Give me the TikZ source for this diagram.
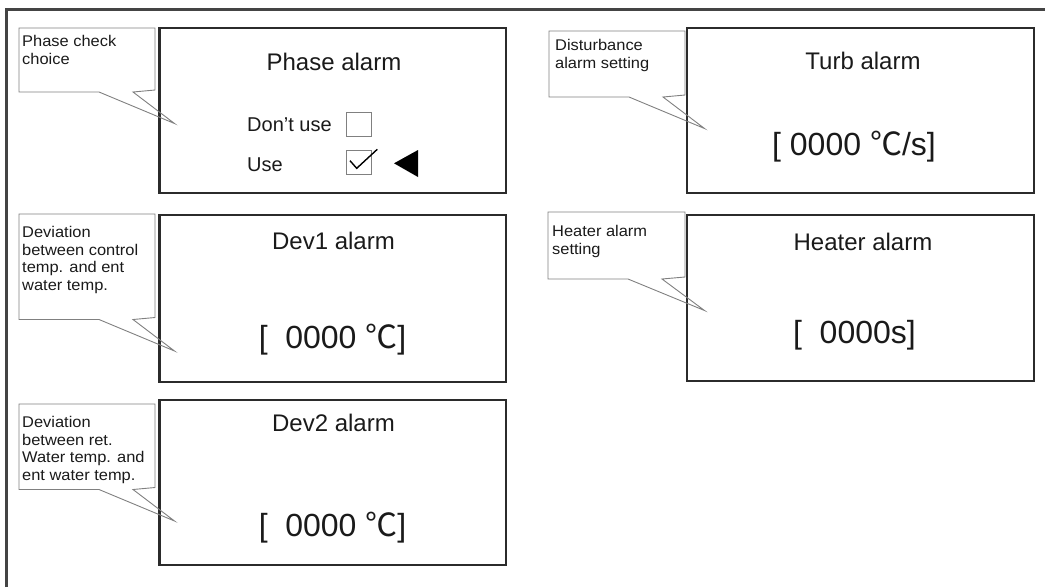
\documentclass[tikz,border=0pt]{standalone}
\usepackage{fontspec}
\setmainfont{Liberation Sans}
\newfontfamily\cjk{Noto Sans CJK SC}
\newfontfamily\callfont[FakeStretch=1.06]{Liberation Sans}
\newcommand{\degc}{{\cjk ℃}}
\definecolor{framecol}{HTML}{444444}
\definecolor{boxcol}{HTML}{2B2B2B}
\definecolor{callcol}{HTML}{808080}
\definecolor{txtcol}{HTML}{1A1A1A}
\begin{document}
\begin{tikzpicture}[x=1pt,y=-1pt,
  screen/.style={draw=boxcol,line width=2.5pt,inner sep=0pt},
  calloutline/.style={draw=callcol,line width=0.9pt,line join=miter},
  calltext/.style={anchor=north west,inner sep=0pt,align=left,text=txtcol,
    font=\callfont\fontsize{15.5}{17.6}\selectfont},
  titletext/.style={anchor=base,inner sep=0pt,text=txtcol,font=\fontsize{24}{28}\selectfont},
  valuetext/.style={anchor=base,inner sep=0pt,text=txtcol,font=\fontsize{32}{38}\selectfont},
  opttext/.style={anchor=base west,inner sep=0pt,text=txtcol,font=\fontsize{20}{24}\selectfont},
  chkbox/.style={draw=callcol,line width=1pt,inner sep=0pt,minimum width=25pt,minimum height=24pt}
]
\useasboundingbox (0,0) rectangle (1045,587);
% outer frame (top and left only)
\coordinate (fbl) at (6.5,587);
\coordinate (ftl) at (6.5,9.5);
\coordinate (ftr) at (1045,9.5);
\draw[framecol,line width=2.5pt] (fbl) -- (ftl) -- (ftr);

% screens
\node[screen,minimum width=346.5pt,minimum height=165pt] (phase) at (332.75,110.5) {};
\node[screen,minimum width=346.5pt,minimum height=167pt] (dev1) at (332.75,298.5) {};
\node[screen,minimum width=346.5pt,minimum height=165pt] (dev2) at (332.75,482.5) {};
\node[screen,minimum width=347pt,minimum height=165pt] (turb) at (860.5,110.5) {};
\node[screen,minimum width=347pt,minimum height=166pt] (heater) at (860.5,298) {};

% titles
\node[titletext] (phaset) at (334,70) {Phase alarm};
\node[titletext] (dev1t) at (333.5,249.3) {Dev1 alarm};
\node[titletext] (dev2t) at (333.5,431) {Dev2 alarm};
\node[titletext] (turbt) at (863,69.5) {Turb alarm};
\node[titletext] (heatert) at (863,250.7) {Heater alarm};

% values
\node[valuetext] (turbv) at (854,155) {[ 0000 \degc/s]};
\node[valuetext] (heaterv) at (854.5,343) {[\hspace{0.55em}0000s]};
\node[valuetext] (dev1v) at (332.5,348) {[\hspace{0.55em}0000 \degc]};
\node[valuetext] (dev2v) at (332.5,536.7) {[\hspace{0.55em}0000 \degc]};

% phase options
\node[opttext] (dontuse) at (247,131) {Don't use};
\node[opttext] (use) at (247,171) {Use};
\node[chkbox] (box1) at (358.8,124) {};
\node[chkbox] (box2) at (358.8,162.5) {};
\coordinate (ck1) at (350,160.7);
\coordinate (ck2) at (356.7,168.3);
\coordinate (ck3) at (377.3,149.3);
\draw[black,line width=1.4pt,line join=miter] (ck1) -- (ck2) -- (ck3);
\coordinate (tr1) at (394,163.3);
\coordinate (tr2) at (418,150);
\coordinate (tr3) at (418,177);
\fill[black] (tr1) -- (tr2) -- (tr3) -- cycle;

% callouts: #1 name, #2 L, #3 T, #4 R, #5 B
\newcommand{\mycallout}[5]{%
  \coordinate (#1tl) at (#2,#3);
  \coordinate (#1tr) at (#4,#3);
  \coordinate (#1rb) at (#4,#5-2);
  \coordinate (#1b2) at (#2+114,#5);
  \coordinate (#1tip) at (#4+19.5,#5+31.5);
  \coordinate (#1b1) at (#2+80,#5);
  \coordinate (#1bl) at (#2,#5);
  \draw[calloutline] (#1tl) -- (#1tr) -- (#1rb) -- (#1b2) -- (#1tip) -- (#1b1) -- (#1bl) -- cycle;
}
\mycallout{cphase}{19}{28}{155}{92}
\mycallout{cdev1}{19}{214}{155}{319.5}
\mycallout{cdev2}{19}{404}{155}{489.5}
\mycallout{cturb}{549}{31}{685}{97}
\mycallout{cheater}{548}{212}{685}{279}

\node[calltext] (cphaset) at (22,35.5) {Phase check\\choice};
\node[calltext] (cdev1t) at (22,226) {Deviation\\between control\\temp. and ent\\water temp.};
\node[calltext] (cdev2t) at (22,416) {Deviation\\between ret.\\Water temp. and\\ent water temp.};
\node[calltext] (cturbt) at (555,39.5) {Disturbance\\alarm setting};
\node[calltext] (cheatert) at (552,225.5) {Heater alarm\\setting};
\end{tikzpicture}
\end{document}
